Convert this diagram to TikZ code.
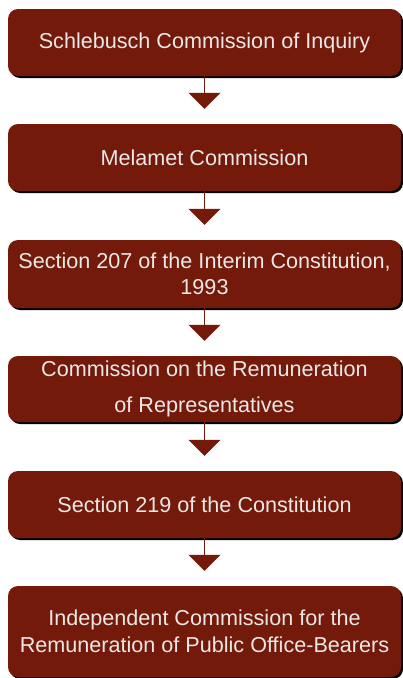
\documentclass[tikz,border=0pt]{standalone}
\usepackage{fontspec}
\setmainfont{Liberation Sans}
\usetikzlibrary{arrows.meta,shadows,positioning}
\definecolor{boxred}{RGB}{115,26,10}
\definecolor{boxtext}{RGB}{236,232,232}

\begin{document}
\begin{tikzpicture}[x=1pt, y=-1pt,
  stage/.style={rectangle, rounded corners=10pt, fill=boxred, text=boxtext,
    minimum width=393pt, align=center, font=\fontsize{21.6}{26.5}\selectfont,
    drop shadow={shadow xshift=2pt, shadow yshift=-2pt, opacity=1, fill=black}},
  flow/.style={draw=boxred, line width=1.5pt, -{Triangle[width=32pt,length=16pt]}, shorten >=15pt}]
  \useasboundingbox (0,0) rectangle (403,678);
  \node [stage, minimum height=67pt] (s1) at (204.5,42.5) {Schlebusch Commission of Inquiry};
  \node [stage, minimum height=67pt] (s2) at (204.5,157.5) {Melamet Commission};
  \node [stage, minimum height=68pt] (s3) at (204.5,274) {Section 207 of the Interim Constitution,\\ 1993};
  \node [stage, minimum height=66pt] (s4) at (204.5,389) {Commission on the Remuneration\\[10pt] of Representatives};
  \node [stage, minimum height=67pt] (s5) at (204.5,504.5) {Section 219 of the Constitution};
  \node [stage, minimum height=91pt] (s6) at (204.5,631.5) {Independent Commission for the\\ Remuneration of Public Office-Bearers};
  \draw [flow] (s1) -- (s2);
  \draw [flow] (s2) -- (s3);
  \draw [flow] (s3) -- (s4);
  \draw [flow] (s4) -- (s5);
  \draw [flow] (s5) -- (s6);
\end{tikzpicture}
\end{document}
